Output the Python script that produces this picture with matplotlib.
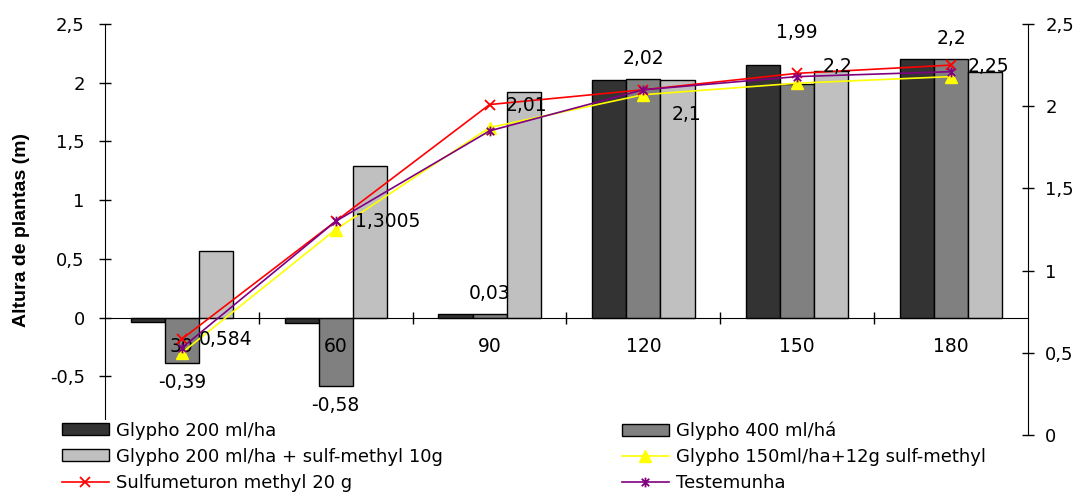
import matplotlib
matplotlib.use("Agg")
import matplotlib.pyplot as plt
import numpy as np
from matplotlib.path import Path
from matplotlib.ticker import FuncFormatter, FixedLocator

plt.rcParams['font.family'] = ['DejaVu Sans']

# ---------------- data ----------------
categories = ["30", "60", "90", "120", "150", "180"]

glypho200 = [-0.04, -0.05, 0.03, 2.02, 2.15, 2.20]
glypho400 = [-0.39, -0.58, 0.03, 2.03, 1.99, 2.20]
glypho200_sulf = [0.57, 1.29, 1.92, 2.02, 2.10, 2.09]

glypho150_sulf = [0.50, 1.25, 1.87, 2.07, 2.14, 2.18]
sulfumeturon = [0.584, 1.3005, 2.01, 2.10, 2.20, 2.25]
testemunha = [0.53, 1.30, 1.85, 2.10, 2.18, 2.21]

bar_labels = ["-0,39", "-0,58", "0,03", "2,02", "1,99", "2,2"]
line_labels = ["0,584", "1,3005", "2,01", "2,1", "2,2", "2,25"]

left_ticks = [-0.5, 0, 0.5, 1, 1.5, 2, 2.5]
right_ticks = [0, 0.5, 1, 1.5, 2, 2.5]

# label offsets in pixels (style)
bar_label_offsets = [(0, -19), (0, -20), (0, 21), (0, 21), (0, 51), (0, 21)]
line_label_offsets = [(17, -1), (19, 0), (16, -1), (28, -25), (25, 7), (17, -1)]

# ---------------- figure ----------------
W, H = 1083, 494
fig = plt.figure(figsize=(W / 100, H / 100), dpi=100)
ax = fig.add_axes([105 / W, 1 - 435 / H, (1028 - 105) / W, (435 - 24) / H])
ax2 = ax.twinx()

x = np.arange(len(categories))
bw = 0.222
edge = dict(edgecolor='black', linewidth=1.0)
b1 = ax.bar(x - bw, glypho200, bw, color='#333333', label='Glypho 200 ml/ha', **edge)
b2 = ax.bar(x, glypho400, bw, color='#808080', label='Glypho 400 ml/há', **edge)
b3 = ax.bar(x + bw, glypho200_sulf, bw, color='#C0C0C0',
            label='Glypho 200 ml/ha + sulf-methyl 10g', **edge)

ax.set_xlim(-0.5, len(categories) - 0.5)
ax.set_ylim(-1, 2.5)
ax2.set_ylim(0, 2.5)

fmt = FuncFormatter(lambda v, p: ('%g' % v).replace('.', ','))

TXT = 13.5

# left axis
ax.yaxis.set_major_locator(FixedLocator(left_ticks))
ax.yaxis.set_major_formatter(fmt)
ax.tick_params(axis='y', direction='inout', length=9, width=1, pad=10, labelsize=13)
ax.spines['top'].set_visible(False)
ax.spines['right'].set_visible(False)
ax.spines['bottom'].set_position(('data', 0))
ax.spines['bottom'].set_zorder(5)
ax.set_xticks([])
ax.set_xticks(np.arange(0.5, len(categories) - 0.5, 1), minor=True)
ax.tick_params(axis='x', which='minor', direction='inout', length=9, width=1, labelbottom=False)
ax.set_ylabel('Altura de plantas (m)', fontsize=14, fontweight='bold', labelpad=14,
              family=['Liberation Sans', 'DejaVu Sans'])

# right axis
for s in ['top', 'left', 'bottom']:
    ax2.spines[s].set_visible(False)
ax2.yaxis.set_major_locator(FixedLocator(right_ticks))
ax2.yaxis.set_major_formatter(fmt)
ax2.tick_params(axis='y', direction='inout', length=9, width=1, pad=8, labelsize=13)

# category labels
for xi, c in zip(x, categories):
    ax.annotate(c, (xi, 0), xytext=(0, -29), textcoords='offset pixels',
                ha='center', va='center', fontsize=TXT, zorder=6)

# star marker (x + vertical line)
star = Path([(-1, -1), (1, 1), (-1, 1), (1, -1), (0, -1.3), (0, 1.3)],
            [Path.MOVETO, Path.LINETO, Path.MOVETO, Path.LINETO, Path.MOVETO, Path.LINETO])

l1, = ax2.plot(x, glypho150_sulf, color='#FFFF00', lw=1.2, marker='^', ms=8,
               mfc='#FFFF00', mec='#FFFF00', label='Glypho 150ml/ha+12g sulf-methyl')
l2, = ax2.plot(x, sulfumeturon, color='#FF0000', lw=1.2, marker='x', ms=7, mew=1.3,
               label='Sulfumeturon methyl 20 g')
l3, = ax2.plot(x, testemunha, color='#800080', lw=1.2, marker=star, ms=7, mew=1.3,
               mfc='none', mec='#800080', label='Testemunha')

# data labels
for xi, v, t, off in zip(x, glypho400, bar_labels, bar_label_offsets):
    ax.annotate(t, (xi, v), xytext=off, textcoords='offset pixels',
                ha='center', va='center', fontsize=TXT, zorder=6)
for xi, v, t, off in zip(x, sulfumeturon, line_labels, line_label_offsets):
    ax2.annotate(t, (xi, v), xytext=off, textcoords='offset pixels',
                 ha='left', va='center', fontsize=TXT, zorder=6)

# legends
leg_font = {'family': ['DejaVu Sans'], 'size': 13}
common = dict(frameon=True, framealpha=1, edgecolor='none', facecolor='white',
              prop=leg_font, handlelength=2.6, handleheight=0.65, handletextpad=0.4,
              labelspacing=0.44, borderpad=0.1, borderaxespad=0)
lg1 = fig.legend([b1, b3, l2], [b1.get_label(), b3.get_label(), l2.get_label()],
                 loc='upper left', bbox_to_anchor=(60 / W, 1 - 420 / H), **common)
lg2 = fig.legend([b2, l1, l3], [b2.get_label(), l1.get_label(), l3.get_label()],
                 loc='upper left', bbox_to_anchor=(620 / W, 1 - 420 / H), **common)
for lg in (lg1, lg2):
    lg.set_zorder(10)

fig.savefig('out.png', dpi=100)
